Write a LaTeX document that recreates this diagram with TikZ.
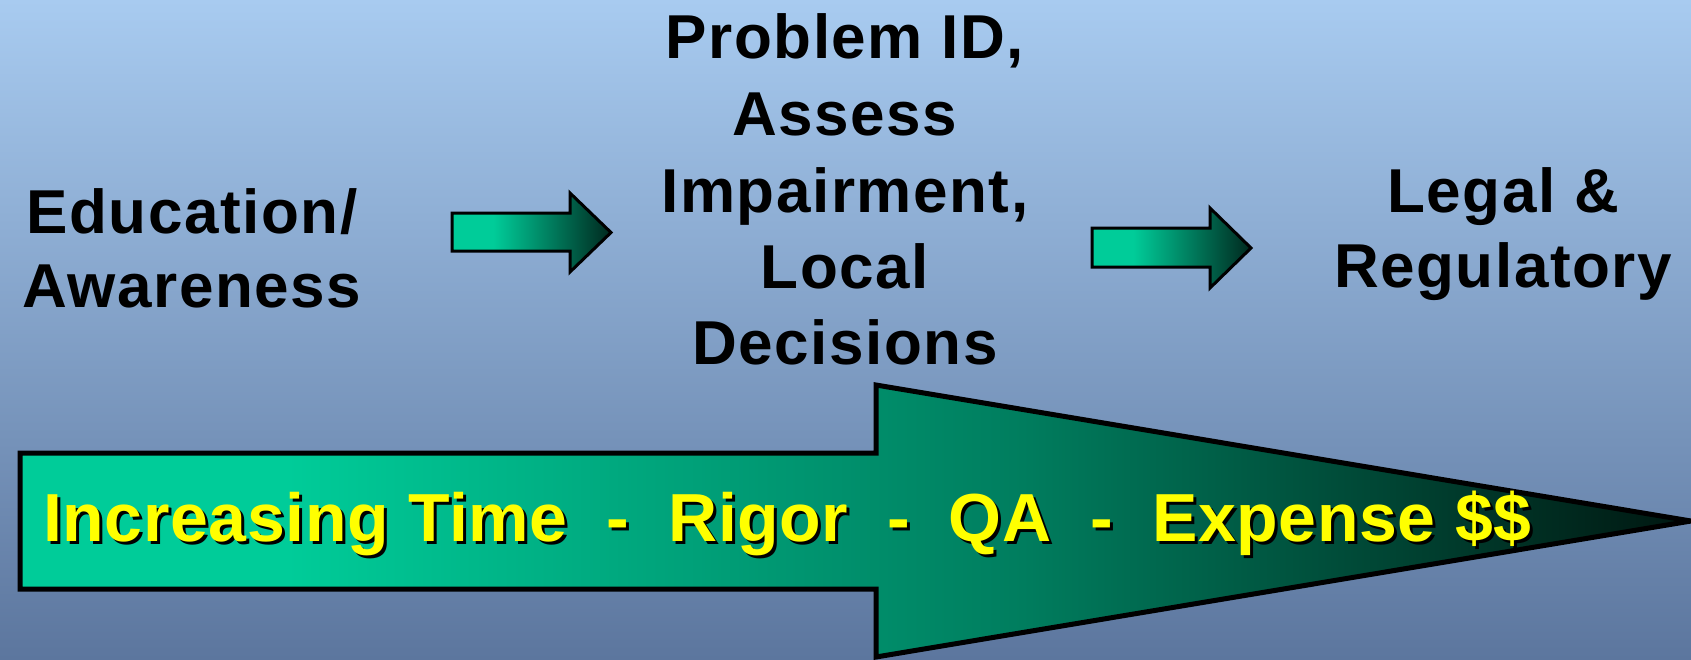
\documentclass[tikz,border=0pt]{standalone}
\usepackage{fontspec}
\newfontfamily\labfont[LetterSpace=2.5]{Liberation Sans}
\newfontfamily\bandfont[LetterSpace=0.9]{Liberation Sans}
\definecolor{bgtop}{RGB}{168,203,240}
\definecolor{bgbot}{RGB}{92,118,158}
\definecolor{gA}{RGB}{0,204,153}
\definecolor{gD}{RGB}{0,40,30}
\definecolor{bigM}{RGB}{0,125,94}
\definecolor{bigD}{RGB}{0,22,16}
\definecolor{bandyellow}{RGB}{255,255,0}
\pgfdeclarehorizontalshading{smallgrad}{100bp}{color(0bp)=(gA); color(25bp)=(gA); color(38bp)=(gA); color(75bp)=(gD); color(100bp)=(gD)}
\pgfdeclarehorizontalshading{biggrad}{100bp}{color(0bp)=(gA); color(25bp)=(gA); color(33bp)=(gA); color(55bp)=(bigM); color(75bp)=(bigD); color(100bp)=(bigD)}
\tikzset{
  lab/.style={font=\labfont\bfseries\fontsize{62}{74}\selectfont, text=black, inner sep=0pt, anchor=base},
  band/.style={font=\bandfont\bfseries\fontsize{68}{80}\selectfont, inner sep=0pt, anchor=base west},
  smallarrow/.style={draw=black, line width=3pt, shading=smallgrad, line join=miter},
  bigarrow/.style={draw=black, line width=5pt, shading=biggrad, line join=miter}
}
\begin{document}
\begin{tikzpicture}[x=1pt,y=-1pt]
\useasboundingbox (0,0) rectangle (1691,659);
\fill[top color=bgtop,bottom color=bgbot] (0,0) rectangle (1691,659);
% labels
\node[lab] (edu1) at (192,233) {Education/};
\node[lab] (edu2) at (192,307) {Awareness};
\node[lab] (mid1) at (845,58) {Problem ID,};
\node[lab] (mid2) at (845,135) {Assess};
\node[lab] (mid3) at (845,212) {Impairment,};
\node[lab] (mid4) at (845,288) {Local};
\node[lab] (mid5) at (845,364) {Decisions};
\node[lab] (leg1) at (1503,212) {Legal \&};
\node[lab] (leg2) at (1503,287) {Regulatory};
% small block arrows
\path[smallarrow] (452,213) -- (570,213) -- (570,193) -- (611,232.5) -- (570,272) -- (570,251) -- (452,251) -- cycle;
\path[smallarrow] (1092,228) -- (1210,228) -- (1210,208) -- (1251,248) -- (1210,288) -- (1210,267) -- (1092,267) -- cycle;
% big block arrow
\path[bigarrow] (20,453) -- (876,453) -- (876,385) -- (1691,521) -- (876,657) -- (876,589) -- (20,589) -- cycle;
% band text with shadow
\node[band, text=black] (bandshadow) at (46,544) {Increasing Time\ \ -\ \ Rigor\ \ -\ \ QA\ \ -\ \ Expense \$\$};
\node[band, text=bandyellow] (bandtext) at (43,541) {Increasing Time\ \ -\ \ Rigor\ \ -\ \ QA\ \ -\ \ Expense \$\$};
\end{tikzpicture}
\end{document}
